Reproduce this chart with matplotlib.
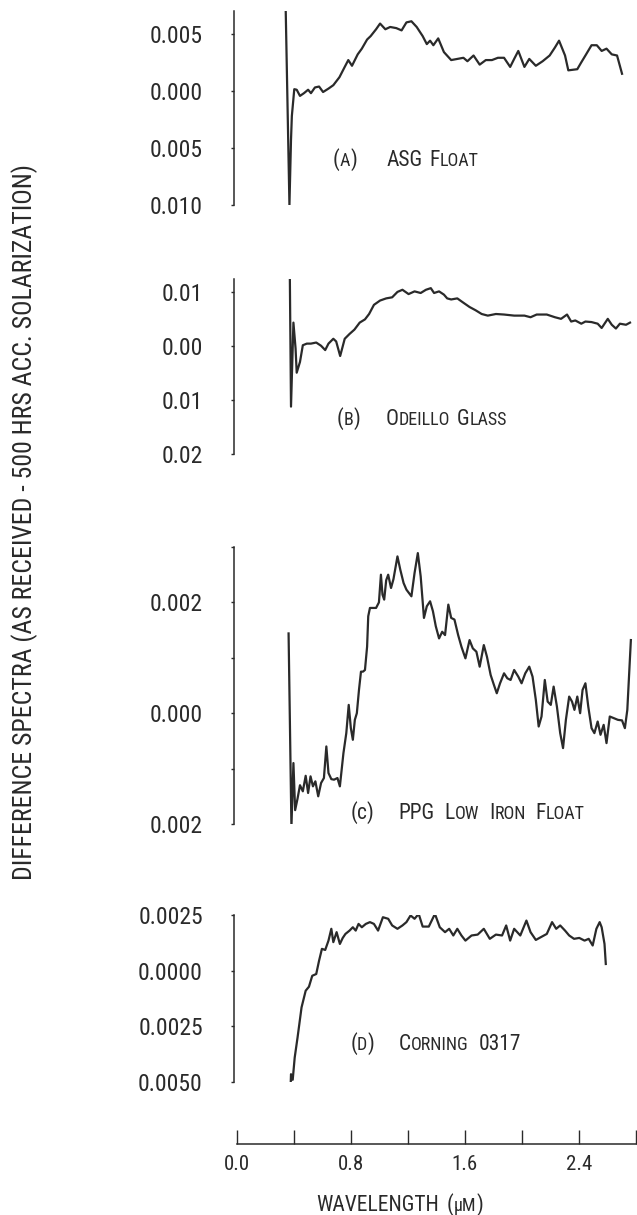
import matplotlib
matplotlib.use("Agg")
import matplotlib.pyplot as plt
import matplotlib.transforms as mtransforms
from matplotlib import font_manager

#***********************************************************************
#           data
#***********************************************************************

# (a) ASG float
wl_a = [0.342, 0.368, 0.379, 0.385, 0.402, 0.419, 0.442, 0.470, 0.499, 0.519,
        0.547, 0.576, 0.604, 0.642, 0.676, 0.719, 0.756, 0.781, 0.807, 0.847,
        0.876, 0.913, 0.938, 0.976, 1.004, 1.041, 1.075, 1.118, 1.155, 1.189,
        1.224, 1.261, 1.303, 1.332, 1.355, 1.378, 1.412, 1.452, 1.503, 1.546,
        1.589, 1.617, 1.660, 1.703, 1.746, 1.789, 1.831, 1.874, 1.917, 1.945,
        1.974, 2.017, 2.051, 2.097, 2.145, 2.194, 2.231, 2.260, 2.302, 2.325,
        2.388, 2.416, 2.445, 2.488, 2.525, 2.559, 2.593, 2.630, 2.667, 2.702]
val_a = [0.0070, -0.0100, -0.0043, -0.0022, 0.00015, 0.0001, -0.00044, -0.0002, 0.0001, -0.0002,
         0.0003, 0.00038, -0.0001, 0.0002, 0.0005, 0.0012, 0.0021, 0.0027, 0.0022, 0.0032,
         0.0037, 0.0045, 0.0048, 0.0054, 0.0059, 0.0054, 0.0056, 0.0055, 0.0053, 0.0060,
         0.0061, 0.0056, 0.0048, 0.0041, 0.0044, 0.0040, 0.0046, 0.0034, 0.0027, 0.0028,
         0.0029, 0.0026, 0.0031, 0.0023, 0.0027, 0.0027, 0.0029, 0.0029, 0.0021, 0.0028,
         0.0035, 0.0021, 0.0028, 0.0022, 0.0026, 0.0031, 0.0038, 0.0044, 0.0031, 0.0018,
         0.0019, 0.0025, 0.0031, 0.0040, 0.0040, 0.0035, 0.0037, 0.0032, 0.0031, 0.0015]

# (b) Odeillo glass
wl_b = [0.371, 0.379, 0.396, 0.411, 0.419, 0.442, 0.462, 0.490, 0.519, 0.556,
        0.590, 0.619, 0.642, 0.676, 0.696, 0.724, 0.756, 0.790, 0.824, 0.861,
        0.898, 0.927, 0.961, 1.004, 1.047, 1.089, 1.126, 1.161, 1.204, 1.246,
        1.289, 1.326, 1.360, 1.383, 1.418, 1.452, 1.475, 1.503, 1.546, 1.583,
        1.632, 1.674, 1.717, 1.760, 1.817, 1.874, 1.945, 2.017, 2.060, 2.103,
        2.174, 2.231, 2.274, 2.316, 2.345, 2.374, 2.416, 2.445, 2.488, 2.531,
        2.559, 2.602, 2.630, 2.659, 2.687, 2.730, 2.758]
val_b = [0.0125, -0.0112, 0.0044, -0.0004, -0.0049, -0.0029, 0.0002, 0.0005, 0.0005, 0.0007,
         0.0001, -0.0007, 0.0005, 0.0014, 0.0009, -0.0018, 0.0014, 0.0023, 0.0031, 0.0044,
         0.0050, 0.0060, 0.0077, 0.0085, 0.0089, 0.0091, 0.0101, 0.0105, 0.0097, 0.0102,
         0.0099, 0.0105, 0.0108, 0.0099, 0.0102, 0.0096, 0.0089, 0.0087, 0.0089, 0.0082,
         0.0073, 0.0067, 0.0060, 0.0057, 0.0060, 0.0059, 0.0057, 0.0057, 0.0054, 0.0059,
         0.0059, 0.0054, 0.0051, 0.0059, 0.0046, 0.0048, 0.0042, 0.0046, 0.0045, 0.0042,
         0.0034, 0.0051, 0.0040, 0.0033, 0.0042, 0.0040, 0.0044]

# (c) PPG low iron float
wl_c = [0.362, 0.371, 0.382, 0.396, 0.408, 0.425, 0.442, 0.462, 0.482, 0.499,
        0.516, 0.533, 0.550, 0.570, 0.590, 0.610, 0.627, 0.642, 0.662, 0.681,
        0.705, 0.722, 0.747, 0.767, 0.784, 0.799, 0.813, 0.827, 0.841, 0.856,
        0.870, 0.884, 0.898, 0.913, 0.921, 0.933, 0.953, 0.976, 0.996, 1.010,
        1.021, 1.033, 1.047, 1.061, 1.081, 1.098, 1.126, 1.146, 1.169, 1.189,
        1.224, 1.246, 1.269, 1.289, 1.312, 1.332, 1.355, 1.375, 1.395, 1.418,
        1.440, 1.460, 1.483, 1.503, 1.526, 1.552, 1.575, 1.603, 1.632, 1.655,
        1.680, 1.703, 1.732, 1.754, 1.780, 1.803, 1.823, 1.846, 1.874, 1.897,
        1.920, 1.945, 1.974, 1.997, 2.023, 2.051, 2.074, 2.097, 2.117, 2.137,
        2.160, 2.180, 2.202, 2.222, 2.245, 2.268, 2.288, 2.308, 2.331, 2.351,
        2.368, 2.388, 2.408, 2.425, 2.445, 2.465, 2.488, 2.508, 2.531, 2.551,
        2.573, 2.593, 2.616, 2.645, 2.673, 2.702, 2.722, 2.739, 2.764]
val_c = [0.00144, -0.00012, -0.00205, -0.0009, -0.00175, -0.00154, -0.0013, -0.00141, -0.00113, -0.00144,
         -0.00114, -0.00132, -0.00123, -0.0015, -0.00126, -0.00117, -0.0006, -0.00108, -0.00119, -0.0012,
         -0.00117, -0.00132, -0.00072, -0.00036, 0.00015, -0.00027, -0.00048, -0.00012, 0.0, 0.00042,
         0.00075, 0.00075, 0.00078, 0.0012, 0.00175, 0.0019, 0.0019, 0.0019, 0.0020, 0.0025,
         0.00214, 0.00205, 0.0024, 0.0025, 0.00226, 0.00242, 0.00283, 0.00259, 0.00235, 0.00223,
         0.00211, 0.00253, 0.00289, 0.00247, 0.00172, 0.00193, 0.00202, 0.00184, 0.00157, 0.00135,
         0.00147, 0.00141, 0.00196, 0.00172, 0.00169, 0.00141, 0.0012, 0.00099, 0.00132, 0.00117,
         0.00111, 0.00084, 0.00123, 0.00102, 0.00069, 0.00051, 0.00036, 0.00054, 0.00072, 0.00063,
         0.0006, 0.00078, 0.00066, 0.00054, 0.00072, 0.00084, 0.00066, 0.00024, -0.00024, -0.00006,
         0.0006, 0.00021, 0.00015, 0.00048, 0.00012, -0.00036, -0.00063, -0.00012, 0.0003, 0.00021,
         0.00006, 0.0003, 0.0, 0.00042, 0.00054, 0.00012, -0.00027, -0.00036, -0.00015, -0.00039,
         -0.00021, -0.00054, -0.00006, -0.00009, -0.00012, -0.00013, -0.00027, 0.00006, 0.00132]

# (d) Corning 0317
wl_d = [0.376, 0.379, 0.391, 0.405, 0.425, 0.453, 0.482, 0.505, 0.528, 0.556,
        0.576, 0.596, 0.619, 0.642, 0.662, 0.676, 0.699, 0.722, 0.742, 0.761,
        0.790, 0.813, 0.833, 0.853, 0.876, 0.904, 0.933, 0.961, 0.990, 1.024,
        1.061, 1.089, 1.126, 1.161, 1.189, 1.218, 1.246, 1.275, 1.303, 1.346,
        1.389, 1.423, 1.460, 1.489, 1.518, 1.546, 1.575, 1.603, 1.646, 1.689,
        1.732, 1.774, 1.817, 1.860, 1.889, 1.917, 1.945, 1.988, 2.031, 2.060,
        2.097, 2.131, 2.174, 2.211, 2.240, 2.268, 2.302, 2.331, 2.365, 2.402,
        2.439, 2.468, 2.496, 2.522, 2.545, 2.559, 2.579, 2.588]
val_d = [-0.00525, -0.00465, -0.0049, -0.0039, -0.0030, -0.00165, -0.0009, -0.00072, -0.00023, -0.00015,
         0.00045, 0.00098, 0.00093, 0.00135, 0.00188, 0.00128, 0.00173, 0.0012, 0.00147, 0.00165,
         0.0018, 0.00195, 0.0018, 0.0021, 0.00195, 0.0021, 0.00218, 0.0021, 0.0018, 0.0024,
         0.00233, 0.00203, 0.00188, 0.00203, 0.00218, 0.00248, 0.00233, 0.00255, 0.00198, 0.00198,
         0.00255, 0.00195, 0.00173, 0.00188, 0.00158, 0.00188, 0.00158, 0.00135, 0.00158, 0.00162,
         0.00188, 0.00143, 0.00162, 0.00158, 0.00203, 0.00135, 0.00188, 0.00158, 0.00225, 0.00173,
         0.00138, 0.0015, 0.00165, 0.00218, 0.00188, 0.00203, 0.0018, 0.00158, 0.00143, 0.00147,
         0.00135, 0.00143, 0.00113, 0.00188, 0.00218, 0.00195, 0.0012, 0.0003]

# tick values and the labels as printed (no minus signs in the original)
ticks_a = [0.005, 0.0, -0.005, -0.010]
labels_a = ["0.005", "0.000", "0.005", "0.010"]
ticks_b = [0.01, 0.0, -0.01, -0.02]
labels_b = ["0.01", "0.00", "0.01", "0.02"]
ticks_c = [0.003, 0.002, 0.001, 0.0, -0.001, -0.002]
labels_c = ["", "0.002", "", "0.000", "", "0.002"]
ticks_d = [0.0025, 0.0, -0.0025, -0.0050]
labels_d = ["0.0025", "0.0000", "0.0025", "0.0050"]
ticks_x = [0.0, 0.4, 0.8, 1.2, 1.6, 2.0, 2.4, 2.8]
labels_x = ["0.0", "", "0.8", "", "1.6", "", "2.4", ""]

#***********************************************************************
#           look
#***********************************************************************
names = {f.name for f in font_manager.fontManager.ttflist}
for fam in ["Liberation Sans Narrow", "Roboto Condensed", "DejaVu Sans"]:
    if fam in names:
        break
plt.rcParams['font.family'] = fam
ink = "#2a2a2a"
W, H = 637.0, 1215.0
XL = (-0.021, 2.807)

fig = plt.figure(figsize=(6.37, 12.15), dpi=100)
renderer = fig.canvas.get_renderer()


def box(top, bottom):
    # pixel rows of the reference -> figure fractions
    return [234 / W, 1 - bottom / H, 403 / W, (bottom - top) / H]


#___________small caps text built from pieces______________________________
def caps_text(trans, x, y, parts):
    off = 0.0
    for p in parts:
        if isinstance(p, (int, float)):
            off += p
            continue
        s, size = p
        tr = trans + mtransforms.ScaledTranslation(off / 72.0, 0, fig.dpi_scale_trans)
        t = fig.text(x, y, s, fontsize=size, color=ink, transform=tr,
                     ha='left', va='baseline')
        off += t.get_window_extent(renderer).width * 72.0 / fig.dpi


#___________one panel_______________________________________________________
def panel(top, bottom, wl, val, ylim, ticks, labels):
    ax = fig.add_axes(box(top, bottom))
    ax.plot(wl, val, color=ink, lw=1.6, solid_joinstyle='round')
    ax.set_xlim(*XL)
    ax.set_ylim(*ylim)
    for s in ['top', 'right', 'bottom']:
        ax.spines[s].set_visible(False)
    ax.spines['left'].set_linewidth(1.1)
    ax.spines['left'].set_color(ink)
    ax.set_xticks([])
    ax.set_yticks(ticks)
    ax.set_yticklabels(labels)
    ax.tick_params(axis='y', direction='out', length=2.5, width=1.0, pad=20,
                   labelsize=17, colors=ink)
    ax.patch.set_visible(False)
    return ax


ax_a = panel(11, 205, wl_a, val_a, (-0.010, 0.0070), ticks_a, labels_a)
ax_b = panel(279, 454, wl_b, val_b, (-0.020, 0.0125), ticks_b, labels_b)
ax_c = panel(547, 824, wl_c, val_c, (-0.002, 0.003), ticks_c, labels_c)
ax_d = panel(915, 1082, wl_d, val_d, (-0.0050, 0.0025), ticks_d, labels_d)

big, small = 15.5, 13
caps_text(ax_a.transData, 0.674, -0.00658,
          [("(", big), ("A", small), (")", big), 21, ("ASG", big), 5, ("F", big), ("LOAT", small)])
caps_text(ax_b.transData, 0.702, -0.01466,
          [("(", big), ("B", small), (")", big), 18, ("O", big), ("DEILLO", small), 5,
           ("G", big), ("LASS", small)])
caps_text(ax_c.transData, 0.795, -0.00191,
          [("(", big), ("c", big), (")", big), 18, ("PPG", big), 7, ("L", big), ("OW", small), 7,
           ("I", big), ("RON", small), 7, ("F", big), ("LOAT", small)])
caps_text(ax_d.transData, 0.795, -0.00356,
          [("(", big), ("D", small), (")", big), 18, ("C", big), ("ORNING", small), 7, ("0317", big)])

#___________wavelength axis_________________________________________________
ax_x = fig.add_axes([234 / W, 1 - 1144 / H, 403 / W, 14 / H])
ax_x.set_xlim(*XL)
for s in ['top', 'right', 'left']:
    ax_x.spines[s].set_visible(False)
ax_x.spines['bottom'].set_bounds(0.0, XL[1])
ax_x.spines['bottom'].set_linewidth(1.1)
ax_x.spines['bottom'].set_color(ink)
ax_x.set_yticks([])
ax_x.set_xticks(ticks_x)
ax_x.set_xticklabels(labels_x)
ax_x.tick_params(axis='x', direction='in', length=10, width=1.0, pad=8,
                 labelsize=15, colors=ink)
ax_x.patch.set_visible(False)

caps_text(fig.transFigure, 316 / W, 1 - 1211 / H,
          [("WAVELENGTH", big), 6, ("(", big), ("\u00b5M", small), (")", big)])

fig.text(25 / W, 1 - 522 / H,
         "DIFFERENCE SPECTRA (AS RECEIVED - 500 HRS ACC. SOLARIZATION)",
         rotation=90, ha='center', va='center', fontsize=18.5, color=ink)

fig.savefig("out.png", dpi=100)
